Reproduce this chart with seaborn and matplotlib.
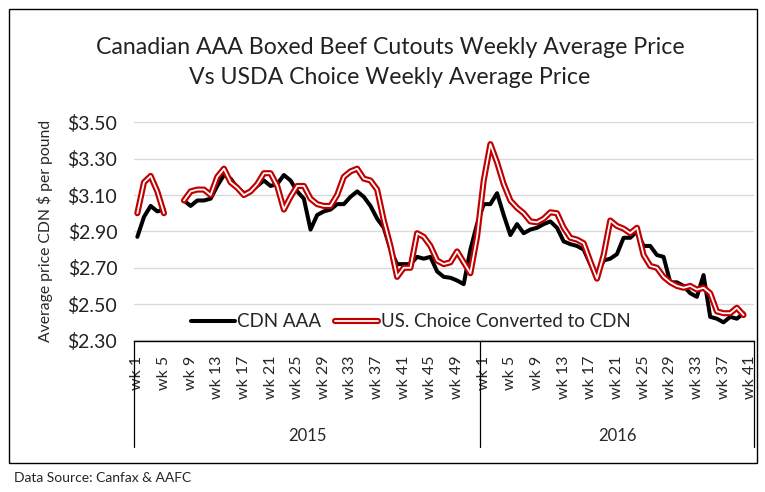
import numpy as np
import pandas as pd
import matplotlib
matplotlib.use("Agg")
import matplotlib.pyplot as plt
import seaborn as sns
from matplotlib.lines import Line2D
from matplotlib.patches import Rectangle

nan = np.nan

# weekly prices, $/lb (2015 wk 6-7 missing, 2016 wk 41 not yet reported)
weeks_2015 = list(range(1, 53))
weeks_2016 = list(range(1, 42))

cdn_2015 = [2.87, 2.98, 3.04, 3.01, 3.02, nan, nan, 3.07, 3.04, 3.07,
            3.07, 3.08, 3.15, 3.21, 3.19, 3.14, 3.11, 3.12, 3.15, 3.18,
            3.15, 3.16, 3.21, 3.18, 3.12, 3.08, 2.91, 2.99, 3.01, 3.02,
            3.05, 3.05, 3.09, 3.12, 3.09, 3.04, 2.97, 2.92, 2.80, 2.72,
            2.72, 2.72, 2.76, 2.75, 2.76, 2.68, 2.65, 2.645, 2.63, 2.61,
            2.80, 2.94]
us_2015 = [3.00, 3.17, 3.205, 3.12, 3.00, nan, nan, 3.07, 3.12, 3.13,
           3.13, 3.10, 3.20, 3.245, 3.17, 3.14, 3.10, 3.12, 3.16, 3.22,
           3.22, 3.15, 3.02, 3.09, 3.15, 3.15, 3.08, 3.05, 3.04, 3.04,
           3.10, 3.20, 3.23, 3.245, 3.19, 3.18, 3.13, 2.96, 2.82, 2.65,
           2.70, 2.70, 2.89, 2.87, 2.82, 2.74, 2.72, 2.73, 2.79, 2.73,
           2.67, 2.87]
cdn_2016 = [3.05, 3.05, 3.11, 2.99, 2.88, 2.94, 2.89, 2.91, 2.92, 2.94,
            2.955, 2.92, 2.845, 2.83, 2.82, 2.80, 2.72, 2.65, 2.74, 2.75,
            2.775, 2.865, 2.865, 2.90, 2.82, 2.82, 2.77, 2.76, 2.62, 2.62,
            2.60, 2.56, 2.54, 2.66, 2.43, 2.42, 2.40, 2.43, 2.42, 2.45,
            nan]
us_2016 = [3.18, 3.38, 3.28, 3.16, 3.07, 3.03, 3.00, 2.955, 2.95, 2.97,
           3.005, 3.00, 2.92, 2.865, 2.855, 2.835, 2.735, 2.64, 2.77, 2.96,
           2.93, 2.915, 2.89, 2.92, 2.77, 2.71, 2.70, 2.65, 2.62, 2.60,
           2.59, 2.60, 2.58, 2.59, 2.56, 2.46, 2.45, 2.45, 2.48, 2.44,
           nan]

years = ["2015", "2016"]
series_names = ["CDN AAA", "US. Choice Converted to CDN"]
y_ticks = [2.30, 2.50, 2.70, 2.90, 3.10, 3.30, 3.50]


def build_frame(v2015, v2016):
    df = pd.DataFrame({
        "week": weeks_2015 + weeks_2016,
        "year": [years[0]] * len(weeks_2015) + [years[1]] * len(weeks_2016),
        "price": v2015 + v2016,
    })
    df["pos"] = np.arange(len(df))
    # new segment after each gap so the line breaks there
    df["seg"] = df["price"].isna().cumsum()
    return df.dropna()


cdn = build_frame(cdn_2015, cdn_2016)
us = build_frame(us_2015, us_2016)
n_cat = len(weeks_2015) + len(weeks_2016)

sns.set_style("white")
plt.rcParams["font.family"] = ["Lato", "DejaVu Sans"]

W, H = 765, 492
fig = plt.figure(figsize=(W / 100, H / 100), dpi=100)
ax = fig.add_axes([134 / W, 1 - 340.5 / H, (753.5 - 134) / W, (340.5 - 122.3) / H])

red = "#c00000"
sns.lineplot(data=cdn, x="pos", y="price", units="seg", estimator=None,
             color="black", lw=2.9, ax=ax, legend=False)
sns.lineplot(data=us, x="pos", y="price", units="seg", estimator=None,
             color=red, lw=4.4, ax=ax, legend=False)
sns.lineplot(data=us, x="pos", y="price", units="seg", estimator=None,
             color="white", lw=1.3, ax=ax, legend=False)

ax.set_xlim(-0.5, n_cat - 0.5)
ax.set_ylim(y_ticks[0], y_ticks[-1])
ax.set_yticks(y_ticks)
ax.set_yticklabels([f"${v:.2f}" for v in y_ticks], fontsize=14, color="#222222")
ax.yaxis.grid(True, color="#d9d9d9", lw=1)
ax.set_axisbelow(True)

# category ticks: every 4th week inside each year
tick_pos, tick_lab = [], []
for offset, wks in [(0, weeks_2015), (len(weeks_2015), weeks_2016)]:
    for i, w in enumerate(wks):
        if i % 4 == 0:
            tick_pos.append(offset + i)
            tick_lab.append(f"wk {w}")
ax.set_xticks(tick_pos)
ax.set_xticklabels(tick_lab, rotation=90, fontsize=11.5, va="top", ha="center")
ax.tick_params(axis="both", length=0)
ax.tick_params(axis="x", pad=11)
ax.tick_params(axis="y", pad=12)
ax.set_xlabel("")
ax.set_ylabel("Average price CDN $ per pound", fontsize=11.3)
ax.yaxis.set_label_coords(-0.131, 0.5)

for side in ["left", "right", "top"]:
    ax.spines[side].set_visible(False)
ax.spines["bottom"].set_color("black")
ax.spines["bottom"].set_linewidth(1)

# year grouping under the week labels
trans = ax.get_xaxis_transform()
for xs in [-0.5, len(weeks_2015) - 0.5, n_cat - 0.5]:
    ax.plot([xs, xs], [0, -0.488], color="black", lw=0.9, transform=trans, clip_on=False)
ax.text((len(weeks_2015) - 1) / 2, -0.438, years[0], transform=trans,
        ha="center", va="center", fontsize=12)
ax.text(len(weeks_2015) + (len(weeks_2016) - 1) / 2, -0.438, years[1], transform=trans,
        ha="center", va="center", fontsize=12)

handles = [Line2D([], [], color="black", lw=2.9),
           (Line2D([], [], color=red, lw=4.4), Line2D([], [], color="white", lw=1.3))]
ax.legend(handles, series_names, loc="center", bbox_to_anchor=(0.447, 0.085), ncol=2,
          frameon=False, fontsize=13.5, handlelength=2.3, handletextpad=0.15,
          columnspacing=0.7)

fig.text(390 / W, 1 - 47 / H, "Canadian AAA Boxed Beef Cutouts Weekly Average Price",
         ha="center", va="center", fontsize=16.7, color="#222222")
fig.text(390 / W, 1 - 78 / H, "Vs USDA Choice Weekly Average Price",
         ha="center", va="center", fontsize=16.7, color="#222222")

fig.patches.append(Rectangle((9 / W, 1 - 463 / H), (757 - 9) / W, (463 - 9) / H,
                             transform=fig.transFigure, fill=False, ec="black", lw=1))
fig.text(14 / W, 1 - 478 / H, "Data Source: Canfax & AAFC", ha="left", va="center",
         fontsize=10)

fig.savefig("out.png", dpi=100)
